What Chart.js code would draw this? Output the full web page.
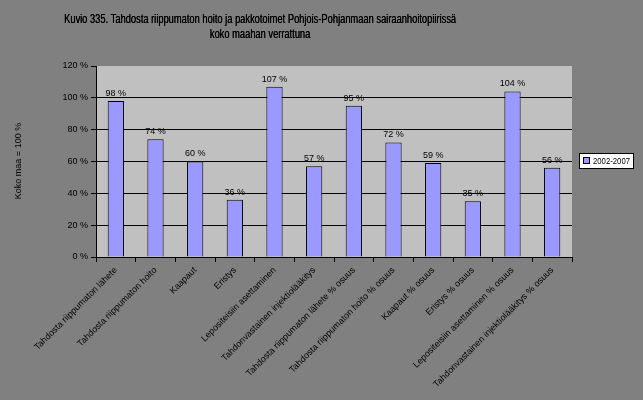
<!DOCTYPE html>
<html><head><meta charset="utf-8">
<script src="https://cdn.jsdelivr.net/npm/chart.js@4"></script>
<style>html,body{margin:0;padding:0;background:#808080;}#wrap{width:643px;height:400px;}</style>
</head><body><div id="wrap"><canvas id="c" width="643" height="400"></canvas></div>
<script>
const categories = [
  "Tahdosta riippumaton lähete",
  "Tahdosta riippumaton hoito",
  "Kaapaut",
  "Eristys",
  "Lepositeisiin asettaminen",
  "Tahdonvastainen injektiolääkitys",
  "Tahdosta riippumaton lähete % osuus",
  "Tahdosta riippumaton hoito % osuus",
  "Kaapaut % osuus",
  "Eristys % osuus",
  "Lepositeisiin asettaminen % osuus",
  "Tahdonvastainen injektiolääkitys % osuus"
];
const values2002_2007 = [98, 74, 60, 36, 107, 57, 95, 72, 59, 35, 104, 56];
const seriesName = "2002-2007";
const titleLines = ["Kuvio 335. Tahdosta riippumaton hoito ja pakkotoimet Pohjois-Pohjanmaan sairaanhoitopiirissä", "koko maahan verrattuna"];
const yAxisTitle = "Koko maa = 100 %";
const FONT = "'Liberation Sans', Arial, sans-serif";

const decor = {
  id: 'decor',
  beforeDraw(chart) {
    const {ctx, chartArea: a} = chart;
    ctx.save();
    ctx.fillStyle = '#c0c0c0';
    ctx.fillRect(a.left, a.top, a.right - a.left, a.bottom - a.top);
    ctx.restore();
  },
  afterDraw(chart) {
    const ctx = chart.ctx;
    ctx.save();
    ctx.fillStyle = '#000';
    ctx.textAlign = 'center';
    ctx.textBaseline = 'middle';
    ctx.font = '12px ' + FONT;
    const w1 = ctx.measureText(titleLines[0]).width;
    const sx = 392 / w1;
    [[titleLines[0], 20], [titleLines[1], 35]].forEach(([t, y]) => {
      ctx.save();
      ctx.translate(260, y);
      ctx.scale(sx, 1);
      ctx.fillText(t, 0, 0);
      ctx.fillText(t, 0.3, 0);
      ctx.restore();
    });
    ctx.save();
    ctx.translate(19, 161);
    ctx.rotate(-Math.PI / 2);
    ctx.font = '9px ' + FONT;
    ctx.fillText(yAxisTitle, 0, 0);
    ctx.restore();
    const meta = chart.getDatasetMeta(0);
    ctx.font = '9px ' + FONT;
    ctx.textBaseline = 'bottom';
    meta.data.forEach((el, i) => {
      ctx.fillText(values2002_2007[i] + ' %', el.x, el.y - 3);
    });
    ctx.fillStyle = '#fff';
    ctx.fillRect(579.5, 153.5, 54, 15);
    ctx.strokeStyle = '#000';
    ctx.lineWidth = 1;
    ctx.strokeRect(579.5, 153.5, 54, 15);
    ctx.fillStyle = '#9999ff';
    ctx.fillRect(583.5, 157.5, 6, 6);
    ctx.strokeRect(583.5, 157.5, 6, 6);
    ctx.fillStyle = '#000';
    ctx.textAlign = 'left';
    ctx.textBaseline = 'middle';
    const lw = ctx.measureText(seriesName).width;
    ctx.save();
    ctx.translate(593, 161.5);
    ctx.scale(37 / lw, 1);
    ctx.fillText(seriesName, 0, 0);
    ctx.restore();
    ctx.restore();
  }
};

new Chart(document.getElementById('c'), {
  type: 'bar',
  data: {
    labels: categories,
    datasets: [{
      label: seriesName,
      data: values2002_2007,
      backgroundColor: '#9999ff',
      borderColor: '#000',
      borderWidth: 1,
      barPercentage: 0.41,
      categoryPercentage: 1
    }]
  },
  options: {
    responsive: false,
    animation: false,
    layout: {padding: {top: 66, right: 71, left: 0, bottom: 0}},
    plugins: {legend: {display: false}, title: {display: false}, tooltip: {enabled: false}},
    scales: {
      x: {
        afterFit(s) { s.height = 143; },
        offset: true,
        grid: {offset: true, drawOnChartArea: false, color: '#000', tickColor: '#000', tickLength: 5},
        border: {color: '#000', width: 1},
        ticks: {minRotation: 45, maxRotation: 45, color: '#000', font: {family: FONT, size: 9}, padding: 3, autoSkip: false}
      },
      y: {
        afterFit(s) { s.width = 96; },
        min: 0, max: 120,
        ticks: {stepSize: 20, color: '#000', font: {family: FONT, size: 9}, padding: 3, callback: v => v + ' %'},
        grid: {color: c => (c.tick && c.tick.value === 120) ? 'rgba(0,0,0,0)' : '#000', tickColor: '#000', tickLength: 5},
        border: {color: '#000', width: 1}
      }
    }
  },
  plugins: [decor]
});
</script>
</body></html>
